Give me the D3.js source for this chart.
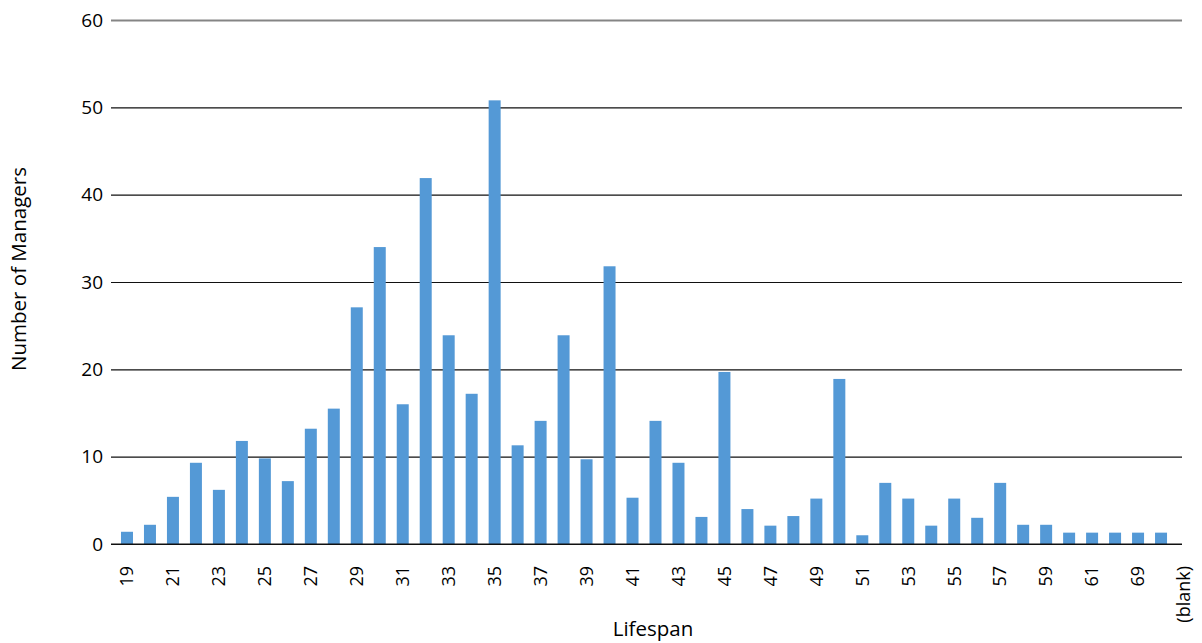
<!DOCTYPE html>
<html>
<head>
<meta charset="utf-8">
<script src="https://cdn.jsdelivr.net/npm/d3@7"></script>
<style>
  html, body { margin: 0; padding: 0; background: #fff; }
  svg { display: block; }
  text { font-family: "Open Sans", "Noto Sans", sans-serif; fill: #000; }
</style>
</head>
<body>
<svg id="chart" width="1202" height="643"></svg>
<script>
// ---- data ----
const categories = ["19","20","21","22","23","24","25","26","27","28","29","30",
  "31","32","33","34","35","36","37","38","39","40","41","42","43","44","45",
  "46","47","48","49","50","51","52","53","54","55","56","57","58","59","60",
  "61","62","69","70","(blank)"];
const managers = [1.4, 2.2, 5.4, 9.3, 6.2, 11.8, 9.8, 7.2, 13.2, 15.5, 27.1, 34.0,
  16.0, 41.9, 23.9, 17.2, 50.8, 11.3, 14.1, 23.9, 9.7, 31.8, 5.3, 14.1, 9.3, 3.1, 19.7,
  4.0, 2.1, 3.2, 5.2, 18.9, 1.0, 7.0, 5.2, 2.1, 5.2, 3.0, 7.0, 2.2, 2.2, 1.3,
  1.3, 1.3, 1.3, 1.3, null];
const yTicks = [0, 10, 20, 30, 40, 50, 60];
const yTitle = "Number of Managers";
const xTitle = "Lifespan";

// ---- layout ----
const svg = d3.select("#chart");
const plotLeft = 111, plotRight = 1182, plotTop = 20, plotBottom = 544;
const barColor = "#5499d6";

const y = d3.scaleLinear().domain([0, 60]).range([plotBottom, plotTop]);
const x = d3.scaleBand()
  .domain(categories)
  .range([plotLeft + 4.5, plotRight + 13.5])
  .paddingInner(0.478)
  .paddingOuter(0.239);

// gridlines + y labels
const yAxis = svg.append("g")
  .attr("transform", `translate(${plotLeft},0)`)
  .call(d3.axisLeft(y).tickValues(yTicks).tickSize(-(plotRight - plotLeft)).tickPadding(8).tickFormat(d3.format("d")));
yAxis.select(".domain").remove();
yAxis.selectAll(".tick line")
  .attr("stroke", d => d === 60 ? "#858585" : "#111")
  .attr("stroke-width", d => d === 60 ? 2 : 1.1);
yAxis.selectAll(".tick text")
  .style("font-size", "19px")
  .attr("fill", "#000");

// bars
svg.append("g").selectAll("rect")
  .data(categories.map((c, i) => ({ c, v: managers[i] })).filter(d => d.v != null))
  .join("rect")
  .attr("x", d => x(d.c))
  .attr("width", x.bandwidth())
  .attr("y", d => y(d.v))
  .attr("height", d => y(0) - y(d.v))
  .attr("fill", barColor);

// x baseline
svg.append("line")
  .attr("x1", plotLeft).attr("x2", plotRight)
  .attr("y1", y(0)).attr("y2", y(0))
  .attr("stroke", "#111").attr("stroke-width", 1.1);

// x axis labels (every other category, rotated)
const xAxis = svg.append("g")
  .attr("transform", `translate(0,${plotBottom})`)
  .call(d3.axisBottom(x).tickSize(0).tickPadding(0)
    .tickFormat((d, i) => i % 2 === 0 ? d : ""));
xAxis.select(".domain").remove();
xAxis.selectAll(".tick text")
  .style("font-size", "18px")
  .attr("fill", "#000")
  .attr("text-anchor", "end")
  .attr("transform", "translate(0,22) rotate(-90)")
  .attr("x", 0)
  .attr("y", 0)
  .attr("dy", "0.35em");

// axis titles
svg.append("text")
  .attr("transform", "translate(26,269) rotate(-90)")
  .attr("text-anchor", "middle")
  .style("font-size", "20.5px")
  .text(yTitle);

svg.append("text")
  .attr("x", 653)
  .attr("y", 636)
  .attr("text-anchor", "middle")
  .style("font-size", "20.5px")
  .text(xTitle);
</script>
</body>
</html>
